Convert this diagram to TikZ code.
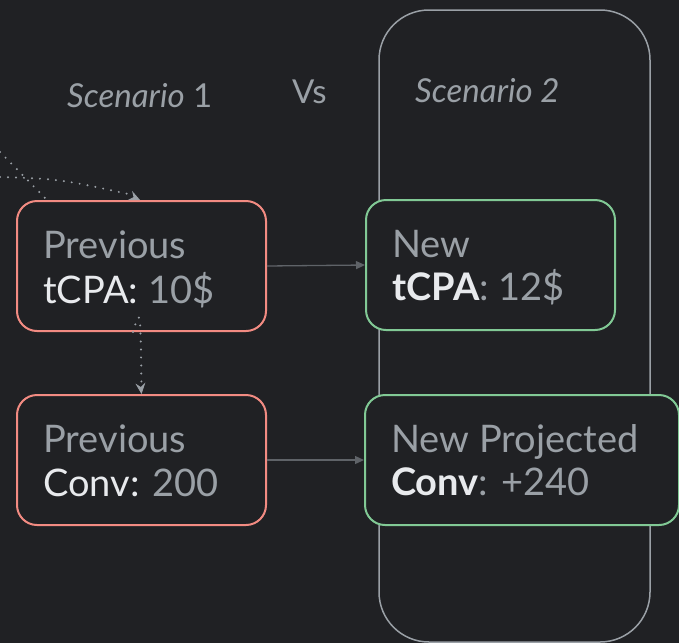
\documentclass[tikz,border=0pt]{standalone}
\usepackage{fontspec}
\setmainfont{Lato}
\usetikzlibrary{arrows.meta}
\definecolor{cbg}{HTML}{202124}
\definecolor{cred}{HTML}{F28B82}
\definecolor{cgreen}{HTML}{81C995}
\definecolor{cgray}{HTML}{9AA0A6}
\definecolor{cwhite}{HTML}{E8EAED}
\definecolor{cline}{HTML}{5F6368}
\begin{document}
\begin{tikzpicture}[x=1pt,y=-1pt,
  box/.style={draw, fill=cbg, line width=2pt, rounded corners=20pt, minimum width=249pt, minimum height=130pt, inner sep=0pt},
  redbox/.style={box, draw=cred},
  greenbox/.style={box, draw=cgreen},
  txt/.style={anchor=base west, inner sep=0pt, font=\fontsize{38}{45}\selectfont, text=cgray},
  head/.style={anchor=base west, inner sep=0pt, font=\fontsize{33}{38}\selectfont, text=cgray},
  solidarrow/.style={draw=cline, line width=1.3pt, -{Triangle[length=9pt,width=8pt]}},
  dotline/.style={draw=cgray, line width=2.2pt, line cap=round, dash pattern=on 0pt off 8pt},
  tiponly/.style={draw=cgray, fill=cgray, line width=0.8pt, solid, -{Stealth[length=11pt,width=10pt,inset=4pt]}}
]
\fill[cbg] (0,0) rectangle (679,643);
\useasboundingbox (0,0) rectangle (679,643);

% Scenario 2 frame
\node[draw=cgray, line width=1.5pt, rounded corners=50pt, minimum width=271pt, minimum height=632pt, inner sep=0pt] (s2) at (514.5,326) {};

% headings
\node[head] (h1) at (67,107) {\textit{Scenario} 1};
\node[head] (hv) at (292,103) {Vs};
\node[head] (h2) at (415,102) {\textit{Scenario 2}};

% boxes
\node[redbox] (p1) at (141.5,266) {};
\node[redbox] (p2) at (141.5,460) {};
\node[greenbox] (n1) at (490.5,265) {};
\node[greenbox, minimum width=314pt] (n2) at (522,460) {};

% texts
\node[txt] (p1a) at (43,258) {Previous};
\node[txt] (p1b) at (43,303) {{\color{cwhite}tCPA:} 10\$};
\node[txt] (p2a) at (43,452) {Previous};
\node[txt] (p2b) at (43,496) {{\color{cwhite}Conv:} 200};
\node[txt] (n1a) at (392,257) {New};
\node[txt] (n1b) at (392,300) {{\color{cwhite}\bfseries tCPA}: 12\$};
\node[txt] (n2a) at (391,452) {New Projected};
\node[txt] (n2b) at (391,495) {{\color{cwhite}\bfseries Conv}: +240};

% connectors
\draw[solidarrow] (p1.east) -- (n1.west);
\draw[solidarrow] (p2.east) -- (n2.west);

\coordinate (in1) at (0,152);
\coordinate (in2) at (0,177);
\draw[dotline] (in1) -- ([xshift=-91.5pt,yshift=-3pt]p1.north);
\draw[dotline] (in2) .. controls (60,179) .. ([xshift=-4pt,yshift=4pt]p1.north);
\draw[tiponly] ([xshift=-7pt,yshift=2.5pt]p1.north) -- ([xshift=-1.5pt]p1.north);
\draw[dotline] ([xshift=-8.5pt]p1.south) .. controls ([xshift=-1pt,yshift=25pt]p1.south) .. ([yshift=4pt]p2.north);
\draw[tiponly] ([xshift=-0.3pt,yshift=3pt]p2.north) -- (p2.north);
\end{tikzpicture}
\end{document}
